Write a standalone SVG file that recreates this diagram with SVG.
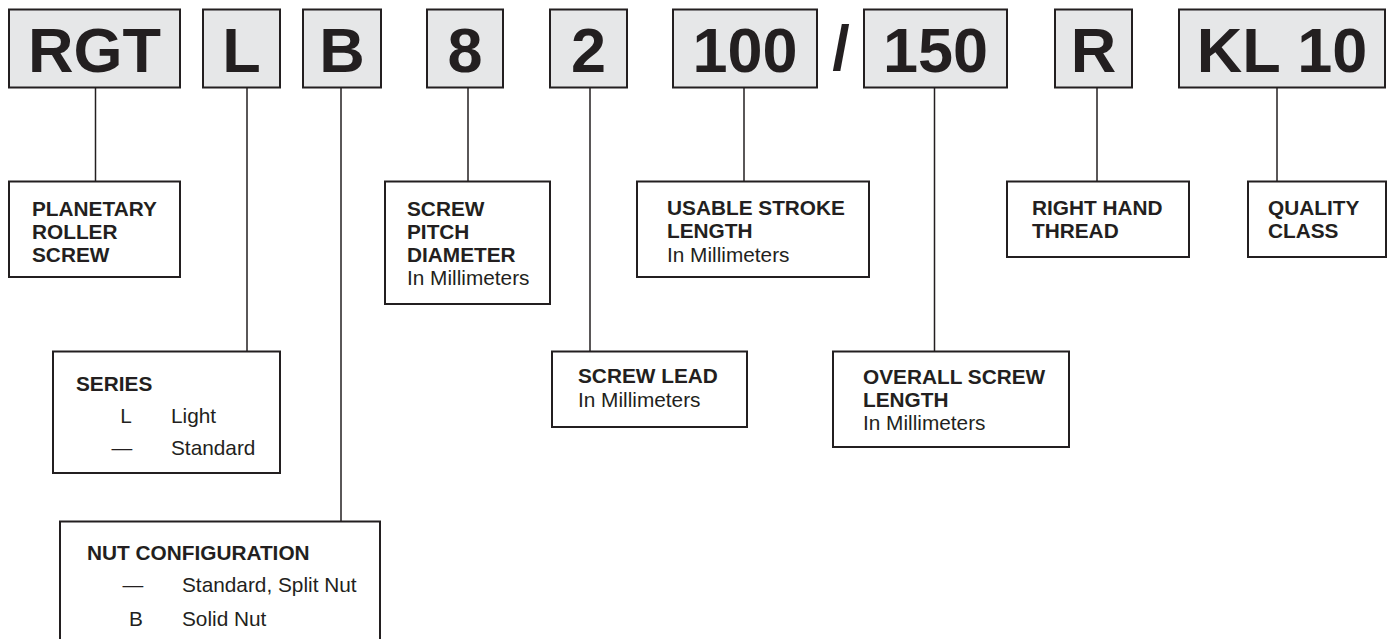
<svg xmlns="http://www.w3.org/2000/svg" width="1392" height="639" viewBox="0 0 1392 639">
<style>
.code{fill:#e6e7e8;stroke:#231f20;stroke-width:2}
.box{fill:#ffffff;stroke:#231f20;stroke-width:2}
.big{font-family:"Liberation Sans",Arial,sans-serif;font-weight:bold;font-size:63px;fill:#231f20;text-anchor:middle}
.b{font-family:"Liberation Sans",Arial,sans-serif;font-weight:bold;font-size:20.8px;fill:#231f20}
.r{font-family:"Liberation Sans",Arial,sans-serif;font-size:20.8px;fill:#231f20}
.c{text-anchor:middle}
.ln{stroke:#231f20;stroke-width:1.5;fill:none}
</style>
<rect width="1392" height="639" fill="#ffffff"/>
<g id="connectors">
<line class="ln" x1="95.5" y1="87" x2="95.5" y2="181"/>
<line class="ln" x1="247" y1="87" x2="247" y2="351"/>
<line class="ln" x1="341" y1="87" x2="341" y2="521"/>
<line class="ln" x1="468" y1="87" x2="468" y2="181"/>
<line class="ln" x1="590" y1="87" x2="590" y2="351"/>
<line class="ln" x1="744" y1="87" x2="744" y2="181"/>
<line class="ln" x1="934.5" y1="87" x2="934.5" y2="351"/>
<line class="ln" x1="1097" y1="87" x2="1097" y2="181"/>
<line class="ln" x1="1277" y1="87" x2="1277" y2="181"/>
</g>
<g id="code-RGT"><rect class="code" x="9" y="9.5" width="171" height="78"/><text class="big" x="94.5" y="72">RGT</text></g>
<g id="code-L"><rect class="code" x="203" y="9.5" width="77" height="78"/><text class="big" x="241.5" y="72">L</text></g>
<g id="code-B"><rect class="code" x="303" y="9.5" width="78" height="78"/><text class="big" x="342" y="72">B</text></g>
<g id="code-8"><rect class="code" x="427" y="9.5" width="76" height="78"/><text class="big" x="465" y="72">8</text></g>
<g id="code-2"><rect class="code" x="550" y="9.5" width="77" height="78"/><text class="big" x="588.5" y="72">2</text></g>
<g id="code-100"><rect class="code" x="673" y="9.5" width="144" height="78"/><text class="big" x="745" y="72">100</text></g>
<g id="slash"><text class="big" x="841" y="70">/</text></g>
<g id="code-150"><rect class="code" x="864" y="9.5" width="143" height="78"/><text class="big" x="935.5" y="72">150</text></g>
<g id="code-R"><rect class="code" x="1055" y="9.5" width="77" height="78"/><text class="big" x="1093.5" y="72">R</text></g>
<g id="code-KL10"><rect class="code" x="1179" y="9.5" width="206" height="78"/><text class="big" x="1282" y="72">KL 10</text></g>

<g id="planetary"><rect class="box" x="9" y="181.5" width="171" height="95.5"/>
<text class="b" x="32" y="216">PLANETARY</text><text class="b" x="32" y="239">ROLLER</text><text class="b" x="32" y="262">SCREW</text></g>
<g id="series"><rect class="box" x="53" y="351.5" width="227" height="121.5"/>
<text class="b" x="76" y="391">SERIES</text>
<text class="r c" x="126" y="423">L</text><text class="r" x="171" y="423">Light</text>
<text class="r c" x="122" y="455">—</text><text class="r" x="171" y="455">Standard</text></g>
<g id="nut"><path class="box" d="M60,645 V521.5 H380 V645"/>
<text class="b" x="87" y="560">NUT CONFIGURATION</text>
<text class="r c" x="133" y="592">—</text><text class="r" x="182" y="592">Standard, Split Nut</text>
<text class="r c" x="136" y="626">B</text><text class="r" x="182" y="626">Solid Nut</text></g>
<g id="pitch"><rect class="box" x="385" y="181.5" width="165" height="122.5"/>
<text class="b" x="407" y="216">SCREW</text><text class="b" x="407" y="239">PITCH</text><text class="b" x="407" y="262">DIAMETER</text><text class="r" x="407" y="285">In Millimeters</text></g>
<g id="lead"><rect class="box" x="552" y="351.5" width="195" height="75.5"/>
<text class="b" x="578" y="383">SCREW LEAD</text><text class="r" x="578" y="407">In Millimeters</text></g>
<g id="stroke"><rect class="box" x="637" y="181.5" width="232" height="95.5"/>
<text class="b" x="667" y="215">USABLE STROKE</text><text class="b" x="667" y="238">LENGTH</text><text class="r" x="667" y="262">In Millimeters</text></g>
<g id="overall"><rect class="box" x="833" y="351.5" width="236" height="95.5"/>
<text class="b" x="863" y="384">OVERALL SCREW</text><text class="b" x="863" y="407">LENGTH</text><text class="r" x="863" y="430">In Millimeters</text></g>
<g id="thread"><rect class="box" x="1007" y="181.5" width="182" height="75.5"/>
<text class="b" x="1032" y="215">RIGHT HAND</text><text class="b" x="1032" y="238">THREAD</text></g>
<g id="quality"><rect class="box" x="1248" y="181.5" width="138" height="75.5"/>
<text class="b" x="1268" y="215">QUALITY</text><text class="b" x="1268" y="238">CLASS</text></g>
</svg>
